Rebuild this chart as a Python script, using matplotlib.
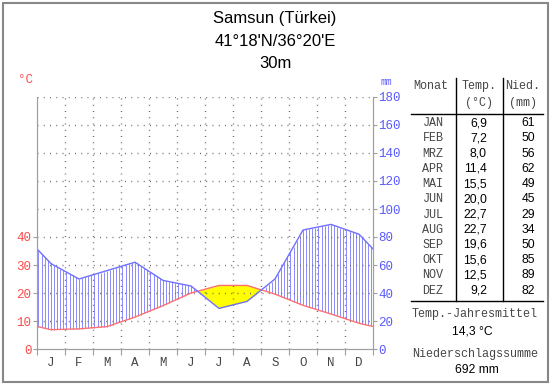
import matplotlib

matplotlib.use("Agg")
import matplotlib.pyplot as plt
import numpy as np
from matplotlib.lines import Line2D
from matplotlib.patches import Rectangle

# Klimadaten Samsun
STATION = "Samsun (Türkei)"
COORDS = "41°18'N/36°20'E"
ELEVATION = "30m"
MONTHS = ["JAN", "FEB", "MRZ", "APR", "MAI", "JUN", "JUL", "AUG", "SEP", "OKT", "NOV", "DEZ"]
MONTH_LETTERS = ["J", "F", "M", "A", "M", "J", "J", "A", "S", "O", "N", "D"]
TEMP = [6.9, 7.2, 8.0, 11.4, 15.5, 20.0, 22.7, 22.7, 19.6, 15.6, 12.5, 9.2]
PRECIP = [61, 50, 56, 62, 49, 45, 29, 34, 50, 85, 89, 82]
TEMP_TICKS = [0, 10, 20, 30, 40]
PRECIP_TICKS = [0, 20, 40, 60, 80, 100, 120, 140, 160, 180]
TEMP_MEAN = "14,3 °C"
PRECIP_SUM = "692 mm"

W, H = 550, 384
RED = "#ff4a4a"
BLUE = "#5a5aff"
TXT = "#464646"
GRAY = "#a0a0a0"
MONO = "Liberation Mono"
SANS = "Liberation Sans"


def fx(x):
    return x / W


def fy(y):
    return 1 - y / H


fig = plt.figure(figsize=(W / 100, H / 100), dpi=100)
ax = fig.add_axes([fx(37), fy(349), (373 - 37) / W, (349 - 97) / H])
ax2 = ax.twinx()

# curves: month centres plus edge values (mean of Dec/Jan)
t = np.array(TEMP)
p = np.array(PRECIP) / 2.0
xc = np.concatenate([[0], np.arange(12) + 0.5, [12]])
tt = np.concatenate([[(t[0] + t[-1]) / 2], t, [(t[0] + t[-1]) / 2]])
pp = np.concatenate([[(p[0] + p[-1]) / 2], p, [(p[0] + p[-1]) / 2]])

# arid period (yellow)
xf = np.linspace(0, 12, 2401)
tf = np.interp(xf, xc, tt)
pf = np.interp(xf, xc, pp)
ax.fill_between(xf, tf, pf, where=tf > pf, color="#ffff00", lw=0, zorder=1)

# humid period (vertical hatching)
xs = np.arange(0.05, 12, 1 / 9)
ts = np.interp(xs, xc, tt)
ps = np.interp(xs, xc, pp)
wet = ps > ts
ax.vlines(xs[wet], ts[wet], ps[wet], color="#8282ff", lw=0.65, zorder=2)

# dotted grid
for yv in range(10, 91, 10):
    ax.axhline(yv, color="#6a6a6a", lw=1, ls=(0, (0.7, 3.8)), zorder=3)
for xv in range(1, 12):
    ax.axvline(xv, color="#6a6a6a", lw=1, ls=(0, (0.7, 3.8)), zorder=3)

ax.plot(xc, tt, color="#ff7070", lw=1, zorder=4)
ax.plot(xc, pp, color="#7070ff", lw=1, zorder=4)

ax.set_xlim(0, 12)
ax.set_ylim(0, 90)
ax2.set_ylim(0, 180)

for a in (ax, ax2):
    for s in a.spines.values():
        s.set_color(GRAY)
    a.spines["top"].set_visible(False)

ax.set_xticks(range(13))
ax.set_xticklabels([])
ax.set_xticks(np.arange(12) + 0.5, minor=True)
ax.set_xticklabels(MONTH_LETTERS, minor=True, family=MONO, fontsize=9, color=TXT)
ax.tick_params(axis="x", which="major", length=4, color=GRAY)
ax.tick_params(axis="x", which="minor", length=0, pad=6)

ax.set_yticks(TEMP_TICKS)
ax.set_yticklabels([str(v) for v in TEMP_TICKS], family=MONO, fontsize=9, color=RED)
ax.tick_params(axis="y", length=3, color=GRAY, pad=1)

ax2.set_yticks(PRECIP_TICKS)
ax2.set_yticklabels([str(v) for v in PRECIP_TICKS], family=MONO, fontsize=9, color=BLUE)
ax2.tick_params(axis="y", length=3, color=GRAY, pad=1)

fig.text(fx(25), fy(80), "°C", family=MONO, fontsize=9, color=RED, ha="center", va="center")
fig.text(fx(386), fy(82), "mm", family=MONO, fontsize=7, color=BLUE, ha="center", va="center")

# title
fig.text(fx(275), fy(19), STATION, family=SANS, fontsize=12, ha="center", va="center")
fig.text(fx(275), fy(41), COORDS, family=SANS, fontsize=12, ha="center", va="center")
fig.text(fx(275), fy(63), ELEVATION, family=SANS, fontsize=12, ha="center", va="center")

# table
hdr = dict(family=MONO, fontsize=8.5, color=TXT, va="center")
num = dict(family=SANS, fontsize=8.7, va="center")
fig.text(fx(431), fy(86), "Monat", ha="center", **hdr)
fig.text(fx(479), fy(86), "Temp.", ha="center", **hdr)
fig.text(fx(479), fy(103), "(°C)", ha="center", **hdr)
fig.text(fx(523), fy(86), "Nied.", ha="center", **hdr)
fig.text(fx(523), fy(103), "(mm)", ha="center", **hdr)

row_y = 123.3
for i, (m, tv, pv) in enumerate(zip(MONTHS, TEMP, PRECIP)):
    y = row_y + i * 15.2
    fig.text(fx(433), fy(y), m, ha="center", **hdr)
    fig.text(fx(487), fy(y), f"{tv:.1f}".replace(".", ","), ha="right", **num)
    fig.text(fx(535), fy(y), str(pv), ha="right", **num)

line_kw = dict(color="black", lw=1, transform=fig.transFigure)
fig.add_artist(Line2D([fx(411), fx(543)], [fy(114), fy(114)], **line_kw))
fig.add_artist(Line2D([fx(411), fx(543)], [fy(301), fy(301)], **line_kw))
fig.add_artist(Line2D([fx(456), fx(456)], [fy(78), fy(301)], **line_kw))
fig.add_artist(Line2D([fx(503), fx(503)], [fy(78), fy(301)], **line_kw))

fig.text(fx(475), fy(314), "Temp.-Jahresmittel", ha="center", **hdr)
fig.text(fx(472), fy(332), TEMP_MEAN, ha="center", **num)
fig.text(fx(475), fy(354), "Niederschlagssumme", ha="center", **hdr)
fig.text(fx(477), fy(370), PRECIP_SUM, ha="center", **num)

# frame
fig.add_artist(Rectangle((fx(2.5), fy(381.5)), (W - 5) / W, (H - 5) / H, fill=False,
                         edgecolor="#888888", lw=1.5, transform=fig.transFigure))

fig.savefig("out.png", dpi=100)
